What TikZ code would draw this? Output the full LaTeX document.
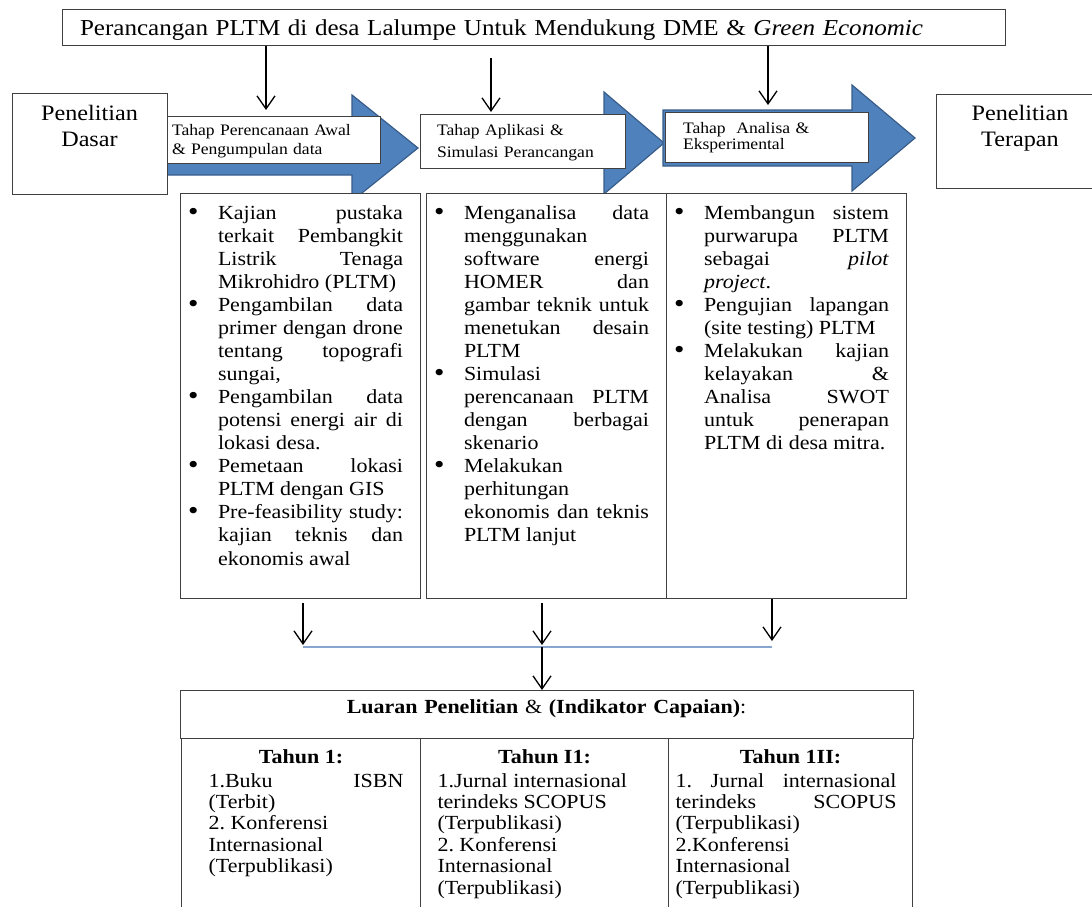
\documentclass[tikz,border=0pt]{standalone}
\usepackage{fontspec}
\setmainfont{Liberation Serif}[FakeStretch=1.1]
\usetikzlibrary{arrows.meta}
\usetikzlibrary{positioning}

\definecolor{stageblue}{RGB}{79,129,189}
\definecolor{stageedge}{RGB}{56,93,138}
\definecolor{joinblue}{RGB}{135,165,205}
\definecolor{boxgray}{RGB}{64,64,64}

% paragraph set-up inside the boxes: left and right margins, justified
\newcommand{\parset}[2]{\leftskip=#1\rightskip=#2\relax\parfillskip=0pt plus 1fil\relax
  \hyphenpenalty=10000\exhyphenpenalty=10000\tolerance=10000\frenchspacing}
\newcommand{\bul}{\hangindent=30pt\hangafter=1\makebox[30pt][l]{\raisebox{-1pt}{\fontsize{27}{0}\selectfont\textbullet}}}
\newcommand{\bitem}{\par\noindent\bul}

\begin{document}
\begin{tikzpicture}[x=1pt,y=-1pt,>={Straight Barb[length=13pt,width=18pt]},line width=1.3pt,
  main box/.style={draw=boxgray,line width=1pt,fill=white,inner sep=0pt,outer sep=0pt,anchor=north west},
  side box/.style={main box,align=center,font=\fontsize{22}{26}\selectfont},
  stage box/.style={main box,align=left,font=\fontsize{16}{19}\selectfont},
  list box/.style={main box,align=justify,text width=240pt,text height=26pt,text depth=379pt,
    font=\fontsize{20}{23.07}\selectfont},
  cell box/.style={main box,align=justify,text height=25pt,text depth=180pt,
    font=\fontsize{20}{21.4}\selectfont}]

  \useasboundingbox (0,0) rectangle (1092,907);

  % blue stage arrows
  \filldraw[fill=stageblue,draw=stageedge,line width=1.2pt]
    (160,121) -- (352,121) -- (352,95) -- (418,148) -- (352,201) -- (352,175) -- (160,175) -- cycle;
  \filldraw[fill=stageblue,draw=stageedge,line width=1.2pt]
    (425,118) -- (604,118) -- (604,92) -- (664,143) -- (604,194) -- (604,168) -- (425,168) -- cycle;
  \filldraw[fill=stageblue,draw=stageedge,line width=1.2pt]
    (663,110) -- (852,110) -- (852,85) -- (915,138) -- (852,191) -- (852,166) -- (663,166) -- cycle;

  \node[main box,text width=907pt,inner xsep=18pt,align=left,text height=26pt,text depth=10pt,
    font=\fontsize{22.8}{27}\selectfont] (title) at (62,10)
    {Perancangan PLTM di desa Lalumpe Untuk Mendukung DME \& \textit{Green Economic}};

  \node[side box,text width=155pt,text height=27pt,text depth=74pt] (dasar) at (12,93) {Penelitian\\Dasar};
  \node[side box,text width=168pt,text height=26pt,text depth=68pt] (terapan) at (936,94) {Penelitian\\Terapan};

  \node[stage box,text width=203pt,inner xsep=5pt,text height=19pt,text depth=28pt] (stage1) at (167,116)
    {Tahap Perencanaan Awal\\\& Pengumpulan data};
  \node[stage box,text width=171pt,inner xsep=17pt,text height=21pt,text depth=33pt,
    font=\fontsize{16}{22}\selectfont] (stage2) at (420,114)
    {Tahap Aplikasi \&\\Simulasi Perancangan};
  \node[stage box,text width=167pt,inner xsep=18pt,text height=21pt,text depth=29pt,
    font=\fontsize{16}{16.5}\selectfont] (stage3) at (665,112)
    {Tahap\ \ Analisa \&\\Eksperimental};

  \draw[->,shorten >=6pt] (title.south -| 266,0) -- (stage1.north -| 266,0);
  \draw[->,shorten <=12pt,shorten >=2pt] (title.south -| 491,0) -- (stage2.north -| 491,0);
  \draw[->,shorten >=7pt] (title.south -| 768,0) -- (stage3.north -| 768,0);

  \node[list box] (colA) at (180,193) {\parset{8pt}{17pt}%
\bul Kajian pustaka\linebreak terkait Pembangkit\linebreak Listrik Tenaga\linebreak Mikrohidro (PLTM)
\bitem Pengambilan data\linebreak primer dengan drone\linebreak tentang topografi\linebreak sungai,
\bitem Pengambilan data\linebreak potensi energi air di\linebreak lokasi desa.
\bitem Pemetaan lokasi\linebreak PLTM dengan GIS
\bitem Pre-feasibility study:\linebreak kajian teknis dan\linebreak ekonomis awal\par};
  \node[list box,right=6pt of colA] (colB) {\parset{8pt}{17pt}%
\bul Menganalisa data\linebreak menggunakan\linebreak software energi\linebreak HOMER dan\linebreak gambar teknik untuk\linebreak menetukan desain\linebreak PLTM
\bitem Simulasi\linebreak perencanaan PLTM\linebreak dengan berbagai\linebreak skenario
\bitem Melakukan\linebreak perhitungan\linebreak ekonomis dan teknis\linebreak PLTM lanjut\par};
  \node[list box,right=0pt of colB] (colC) {\parset{8pt}{17pt}%
\bul Membangun sistem\linebreak purwarupa PLTM\linebreak sebagai \textit{pilot}\linebreak \textit{project}.
\bitem Pengujian lapangan\linebreak (site testing) PLTM
\bitem Melakukan kajian\linebreak kelayakan \&\linebreak Analisa SWOT\linebreak untuk penerapan\linebreak PLTM di desa mitra.\par};

  % joining the three stages
  \coordinate (jA) at (303,647);
  \coordinate (jB) at (542,647);
  \coordinate (jC) at (772,647);
  \draw[->,shorten <=5pt,shorten >=2pt] (colA.south -| jA) -- (jA);
  \draw[->,shorten <=5pt,shorten >=2pt] (colB.south -| jB) -- (jB);
  \draw[->,shorten <=1pt,shorten >=6pt] (colC.south -| jC) -- (jC);
  \draw[joinblue,line width=1.2pt] (jA) -- (jC);

  \node[main box,text width=733pt,align=center,text height=23pt,text depth=25pt,
    font=\fontsize{20}{24}\selectfont] (outcome) at (180,690)
    {\textbf{Luaran Penelitian} \& \textbf{(Indikator Capaian)}:};
  \draw[->] (jB) -- (jB |- outcome.north);

  \node[cell box,text width=239pt] (year1) at (181.5,738) {%
{\centering\bfseries Tahun 1:\par}\vspace{2.6pt}\parset{27pt}{17pt}%
1.Buku ISBN\linebreak (Terbit)\par
2. Konferensi\\Internasional\\(Terpublikasi)\par};
  \node[cell box,text width=248pt,right=0pt of year1] (year2) {%
{\centering\bfseries Tahun I1:\par}\vspace{2.6pt}\parset{17pt}{0pt}%
1.Jurnal internasional\\terindeks SCOPUS\\(Terpublikasi)\par
2. Konferensi\\Internasional\\(Terpublikasi)\par};
  \node[cell box,text width=244pt,right=0pt of year2] (year3) {%
{\centering\bfseries Tahun 1II:\par}\vspace{2.6pt}\parset{7pt}{16pt}%
1. Jurnal internasional\linebreak terindeks SCOPUS\linebreak (Terpublikasi)\par
2.Konferensi\\Internasional\\(Terpublikasi)\par};

\end{tikzpicture}
\end{document}
